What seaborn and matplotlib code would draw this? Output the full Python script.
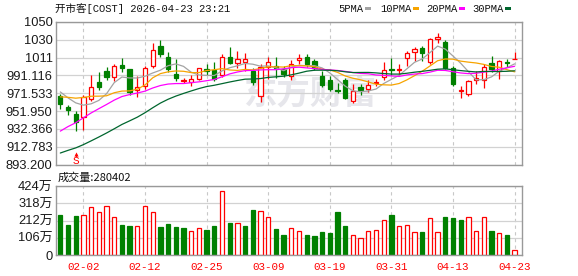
import numpy as np
import pandas as pd
import matplotlib
matplotlib.use("Agg")
import matplotlib.pyplot as plt
import matplotlib.transforms as mtransforms
from matplotlib.patches import Rectangle
import seaborn as sns

# ---------------- data ----------------
dates = ["01-28", "01-29", "01-30", "02-02", "02-03", "02-04", "02-05", "02-06", "02-09", "02-10",
         "02-11", "02-12", "02-13", "02-17", "02-18", "02-19", "02-20", "02-23", "02-24", "02-25",
         "02-26", "02-27", "03-02", "03-03", "03-04", "03-05", "03-06", "03-09", "03-10", "03-11",
         "03-12", "03-13", "03-16", "03-17", "03-18", "03-19", "03-20", "03-23", "03-24", "03-25",
         "03-26", "03-27", "03-30", "03-31", "04-01", "04-02", "04-06", "04-07", "04-08", "04-09",
         "04-10", "04-13", "04-14", "04-15", "04-16", "04-17", "04-20", "04-21", "04-22", "04-23"]

open_ = [968.4, 956.6, 948.9, 945.3, 965.1, 984.1, 996.2, 989.2, 1002.4, 997.6,
         974.9, 979.3, 1001.3, 1023.3, 1011.2, 992.9, 984.6, 983.7, 987.7, 998.4,
         996.9, 992.1, 1011.5, 1004.2, 1006.0, 995.8, 968.4, 1000.6, 1001.3, 997.6,
         990.3, 1007.5, 1011.5, 1006.8, 990.3, 986.6, 975.6, 986.6, 962.9, 978.6,
         976.4, 983.3, 989.2, 998.3, 996.5, 1010.4, 1016.7, 1021.4, 1006.0, 1031.3,
         1028.0, 999.5, 974.5, 971.2, 985.9, 985.9, 1004.9, 995.8, 1006.0, 1008.6]
high = [970.9, 958.8, 951.9, 970.1, 991.4, 994.7, 1000.2, 1003.1, 1010.4, 998.4,
        990.3, 1001.7, 1026.9, 1029.9, 1016.7, 1009.3, 988.5, 991.4, 999.5, 1003.1,
        1005.7, 1014.8, 1022.5, 1017.8, 1015.2, 999.5, 1003.1, 1011.2, 1011.2, 1001.3,
        1007.5, 1014.1, 1014.1, 1009.3, 995.8, 990.3, 983.0, 988.5, 981.9, 981.9,
        986.6, 987.4, 1006.0, 1010.4, 1003.1, 1017.8, 1022.2, 1023.3, 1032.4, 1037.9,
        1030.2, 1001.3, 979.3, 986.6, 995.8, 1003.1, 1012.3, 1007.5, 1008.6, 1016.7]
low = [954.7, 947.5, 930.6, 931.7, 962.9, 975.3, 986.6, 984.8, 994.3, 970.1,
       967.6, 976.0, 999.5, 1011.2, 994.7, 985.5, 983.0, 979.3, 986.6, 992.1,
       984.8, 989.2, 1003.1, 999.5, 995.8, 981.1, 961.8, 987.7, 988.5, 989.2,
       985.9, 1003.8, 1000.6, 996.5, 978.6, 973.9, 972.0, 965.4, 961.0, 969.5,
       973.1, 979.3, 985.9, 992.1, 991.4, 1001.3, 1006.8, 1006.8, 1003.1, 1026.9,
       997.6, 979.3, 966.5, 969.0, 982.2, 977.5, 995.1, 987.7, 1000.2, 1008.6]
close = [960.2, 953.0, 940.4, 967.9, 978.2, 978.9, 989.6, 1001.3, 998.7, 973.1,
         978.6, 999.5, 1018.9, 1014.1, 997.6, 988.5, 986.0, 986.8, 998.7, 995.8,
         987.7, 1011.2, 1004.2, 1009.3, 1008.6, 983.7, 1000.2, 1006.0, 998.7, 992.9,
         1003.8, 1009.7, 1003.1, 999.5, 980.4, 976.4, 973.9, 966.5, 973.9, 975.6,
         980.4, 984.4, 996.9, 996.6, 997.6, 1015.9, 1020.3, 1015.2, 1031.3, 1033.5,
         999.5, 982.2, 975.6, 985.5, 988.5, 1000.2, 997.6, 1006.8, 1004.9, 1009.3]
# volume in 万 shares
volume_wan = [245.8, 184, 240, 244, 293, 262, 299, 231, 184, 178,
              176, 301, 262, 172, 190, 172, 166, 145, 164, 154,
              178, 391, 197, 195, 178, 276, 268, 231, 160, 123,
              164, 145, 123, 117, 141, 135, 264, 178, 121, 102,
              145, 152, 213, 246, 176, 182, 139, 141, 225, 139,
              233, 227, 215, 231, 145, 231, 145, 135, 123, 28.0402]
# closes of the 29 sessions before the first shown day (estimated, feed the moving averages)
history_close = [865, 860, 860, 855, 852, 858, 862, 856, 855, 857,
                 853, 856, 860, 872, 885, 898, 905, 920, 930, 945,
                 958, 950, 960, 965, 978, 985.5, 967.9, 980.4, 971.0]

ma_windows = [5, 10, 20, 30]
ma_labels = ["5PMA", "10PMA", "20PMA", "30PMA"]
ma_colors = ["#a3a3a3", "#f7a400", "#ff00ff", "#00662e"]

price_ticks = [893.2, 912.783, 932.366, 951.950, 971.533, 991.116, 1010.699, 1030.283, 1050.0]
price_tick_labels = ["893.200", "912.783", "932.366", "951.950", "971.533", "991.116", "1011", "1030", "1050"]
vol_ticks = [0, 106, 212, 318, 424]
vol_tick_labels = ["0", "106万", "212万", "318万", "424万"]
xtick_labels = ["02-02", "02-12", "02-25", "03-09", "03-19", "03-31", "04-13", "04-23"]

title_text = "开市客[COST] 2026-04-23 23:21"
volume_title = "成交量:280402"
watermark = "东方财富"
signal_index = 2
signal_text = "S"

# ---------------- derived ----------------
n = len(close)
x = np.arange(n)
df = pd.DataFrame({"x": x, "open": open_, "high": high, "low": low, "close": close, "vol": volume_wan})
all_close = pd.Series(history_close + close)
for w, lab in zip(ma_windows, ma_labels):
    df[lab] = all_close.rolling(w).mean().iloc[len(history_close):].to_numpy()
prev_close = pd.Series(history_close[-1:] + close[:-1]).to_numpy()
df["up"] = df["close"] >= df["open"]
df["vol_up"] = df["close"] >= prev_close

RED = "#ff0000"
GREEN = "#008000"
GRID = "#d2d2d2"
SPINE = "#999999"

sns.set_style("white")
plt.rcParams["font.family"] = ["Liberation Sans", "Noto Sans CJK SC", "DejaVu Sans"]
MONO = ["Liberation Mono", "Noto Sans CJK SC", "DejaVu Sans"]

W, H = 578, 276
fig = plt.figure(figsize=(W / 100, H / 100), dpi=100)


def fx(px):
    return px / W


def fy(py):
    return 1 - py / H


L, R = 56, 522
ax = fig.add_axes([fx(L), fy(164.7), (R - L) / W, (164.7 - 21.7) / H])
axv = fig.add_axes([fx(L), fy(255), (R - L) / W, (255 - 186) / H])

xlim = (-0.56, 59.96)
tick_pos = [dates.index(d) for d in xtick_labels]

for a in (ax, axv):
    a.set_xlim(*xlim)
    a.set_axisbelow(True)
    for s in a.spines.values():
        s.set_color(SPINE)
        s.set_linewidth(1.0)
    a.set_xticks(tick_pos)
    a.grid(axis="x", color="#c8c8c8", linestyle=(0, (3, 3)), linewidth=0.8)
    a.grid(axis="y", color=GRID, linestyle="-", linewidth=0.9)
    a.tick_params(length=0)

# watermark
ax.text(0.545, 0.49, watermark, transform=ax.transAxes, ha="center", va="center",
        fontsize=24, fontweight="bold", color="#e6e6eb", family=["Noto Sans CJK SC"], zorder=0.3)

# candles
bw = 0.56
up = df[df["up"]]
dn = df[~df["up"]]
ax.vlines(up["x"], up["low"], up["open"], color=RED, linewidth=0.9, zorder=2)
ax.vlines(up["x"], up["close"], up["high"], color=RED, linewidth=0.9, zorder=2)
ax.bar(up["x"], np.maximum(up["close"] - up["open"], 0.3), bottom=up["open"], width=bw,
       facecolor="white", edgecolor=RED, linewidth=0.9, zorder=2.1)
ax.vlines(dn["x"], dn["low"], dn["high"], color=GREEN, linewidth=0.9, zorder=2)
ax.bar(dn["x"], dn["open"] - dn["close"], bottom=dn["close"], width=bw,
       facecolor=GREEN, edgecolor=GREEN, linewidth=0.9, zorder=2.1)

# moving averages
for lab, col in zip(ma_labels, ma_colors):
    sns.lineplot(data=df, x="x", y=lab, color=col, linewidth=0.9, ax=ax, legend=False, zorder=3)

ax.set_ylim(price_ticks[0], price_ticks[-1])
ax.set_yticks(price_ticks)
ax.set_yticklabels(price_tick_labels, fontsize=9.3, color="#1a1a1a")
ax.tick_params(axis="y", pad=2.5)
ax.set_xticklabels([])
ax.set_xlabel("")
ax.set_ylabel("")

# signal marker
trans = mtransforms.blended_transform_factory(ax.transData, ax.transAxes)
ax.text(signal_index, 0.028, signal_text, transform=trans, ha="center", va="center",
        color=RED, fontsize=8, family=MONO, zorder=4)
ax.plot([signal_index, signal_index], [0.062, 0.075], transform=trans, color=RED, linewidth=0.9, zorder=4)
ax.plot([signal_index], [0.078], transform=trans, marker="^", markersize=3, color=RED, zorder=4,
        markeredgewidth=0)

# volume
vu = df[df["vol_up"]]
vd = df[~df["vol_up"]]
axv.bar(vu["x"], vu["vol"], width=bw, facecolor="white", edgecolor=RED, linewidth=0.9, zorder=2)
axv.bar(vd["x"], vd["vol"], width=bw, facecolor=GREEN, edgecolor=GREEN, linewidth=0.9, zorder=2)
axv.set_ylim(vol_ticks[0], vol_ticks[-1])
axv.set_yticks(vol_ticks)
axv.set_yticklabels(vol_tick_labels, fontsize=9.3, color="#1a1a1a")
axv.tick_params(axis="y", pad=2.5)
axv.set_xticklabels(xtick_labels, color=RED, fontsize=7.8, family=MONO)
axv.tick_params(axis="x", pad=5)

# header texts
fig.text(fx(55), fy(8.7), title_text, ha="left", va="center", fontsize=7.6, family=MONO, color="#111111")
fig.text(fx(58), fy(177.5), volume_title, ha="left", va="center", fontsize=8, color="#111111",
         family=["Noto Sans CJK SC", "DejaVu Sans"])

# legend
leg_text_x = [338, 380, 426, 472]
leg_box_x = [365, 413, 459, 505]
for lab, col, tx, bx in zip(ma_labels, ma_colors, leg_text_x, leg_box_x):
    fig.text(fx(tx), fy(8.7), lab, ha="left", va="center", fontsize=7.6, family=MONO, color="#111111")
    fig.patches.append(Rectangle((fx(bx), fy(10)), 6 / W, 3 / H, transform=fig.transFigure,
                                 facecolor=col, edgecolor="none"))

fig.savefig("out.png", dpi=100)
